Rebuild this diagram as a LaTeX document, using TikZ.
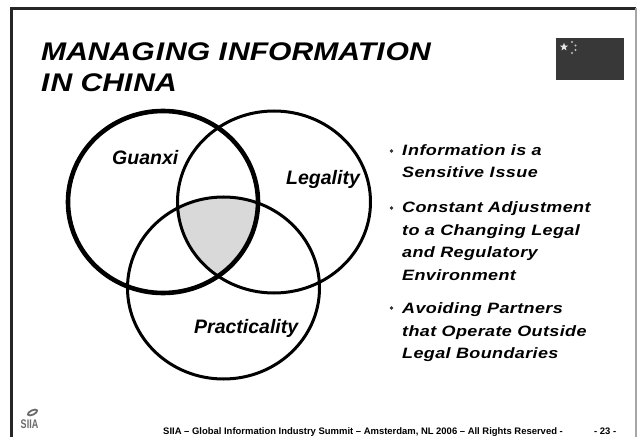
\documentclass[tikz,border=0pt]{standalone}
\usepackage{xcolor}
\usepackage{fontspec}
\usetikzlibrary{shapes.geometric}
\setmainfont{Liberation Sans}
\newfontfamily\widetitle[FakeStretch=1.18]{Liberation Sans}
\newfontfamily\wideitalic[FakeStretch=1.2,LetterSpace=2.5]{Liberation Sans}
\newfontfamily\narrowlogo[FakeStretch=0.72]{Liberation Sans}
\definecolor{flaggray}{HTML}{383838}
\definecolor{sharegray}{HTML}{D9D9D9}
\definecolor{logogray}{HTML}{6A6A6A}
\tikzset{
  vennlabel/.style={font=\fontsize{19.5}{19.5}\selectfont\bfseries\itshape,anchor=base west,inner sep=0pt},
  titleline/.style={font=\widetitle\fontsize{25.5}{25.5}\selectfont\bfseries\itshape,anchor=base west,inner sep=0pt},
  bulletline/.style={font=\wideitalic\fontsize{15}{15}\selectfont\bfseries\itshape,anchor=base west,inner sep=0pt},
  bulletdot/.style={circle,fill=black!80,inner sep=0pt,minimum size=3.8pt},
  footline/.style={font=\fontsize{9.45}{9.45}\selectfont\bfseries,anchor=base west,inner sep=0pt}
}
\begin{document}
\begin{tikzpicture}[x=1pt,y=1pt]
  \useasboundingbox (0,0) rectangle (637,437);

  % frame, grey on the right
  \draw [black!85,line width=3pt] (11,0) -- (11,428.5) -- (636,428.5);
  \draw [black!35,line width=1.5pt] (636,428.5) -- (636,0);

  % title and flag
  \node [titleline] (titleone) at (41,376) {MANAG\kern1pt I\kern1pt NG I\kern1pt NFORMATI\kern1pt ON};
  \node [titleline] (titletwo) at (41,345) {I\kern1pt N CHI\kern1pt NA};
  \fill [flaggray] (556,357) rectangle (624,399);
  \node [star,star points=5,star point ratio=2.4,fill=white!90!black,inner sep=0pt,minimum size=8.5pt] (bigstar) at (564,390) {};
  \foreach \x/\y in {572/395,575.5/391.5,575.5/387,572/384}
    \fill [white!75!black] (\x,\y) circle (1.1pt);

  % shared area first, outlines on top
  \begin{scope}
    \clip (163,235) ellipse (95 and 91);
    \clip (274,235) ellipse (96.5 and 91);
    \fill [sharegray] (223.5,149) ellipse (96 and 91);
  \end{scope}
  \draw [line width=3pt] (274,235) ellipse (96.5 and 91);
  \draw [line width=3pt] (223.5,149) ellipse (96 and 91);
  \draw [line width=4.6pt] (163,235) ellipse (95 and 91);

  \node [vennlabel] (guanxi) at (112,272) {Guanxi};
  \node [vennlabel] (legality) at (286,252) {Legality};
  \node [vennlabel] (practicality) at (194,104) {Practicality};

  % bullets
  \foreach \n/\y/\t in {a/281/I\kern1pt nformation is a,b/259/Sensitive I\kern1pt ssue,
      c/224/Constant Adjustment,d/202/to a Changing Legal,e/180/and Regulatory,f/157/Environment,
      g/124/Avoiding Partners,h/101/that Operate Outside,i/79/Legal Boundaries}
    \node [bulletline] (line\n) at (402,\y) {\t};
  \foreach \n/\y in {a/286,c/229,g/129}
    \node [bulletdot] (dot\n) at (391.5,\y) {};

  % logo and footer
  \draw [logogray,line width=1.8pt,rotate around={25:(32.5,24.5)}] (32.5,24.5) ellipse (5 and 2.2);
  \node [font=\narrowlogo\fontsize{12.5}{12.5}\selectfont\bfseries,text=logogray,inner sep=0pt] (logo) at (29.5,12.5) {SIIA};
  \node [footline] (footer) at (163,2.2) {SIIA – Global Information Industry Summit – Amsterdam, NL 2006 – All Rights Reserved -};
  \node [footline] (pageno) at (594,2.2) {- 23 -};
\end{tikzpicture}
\end{document}
